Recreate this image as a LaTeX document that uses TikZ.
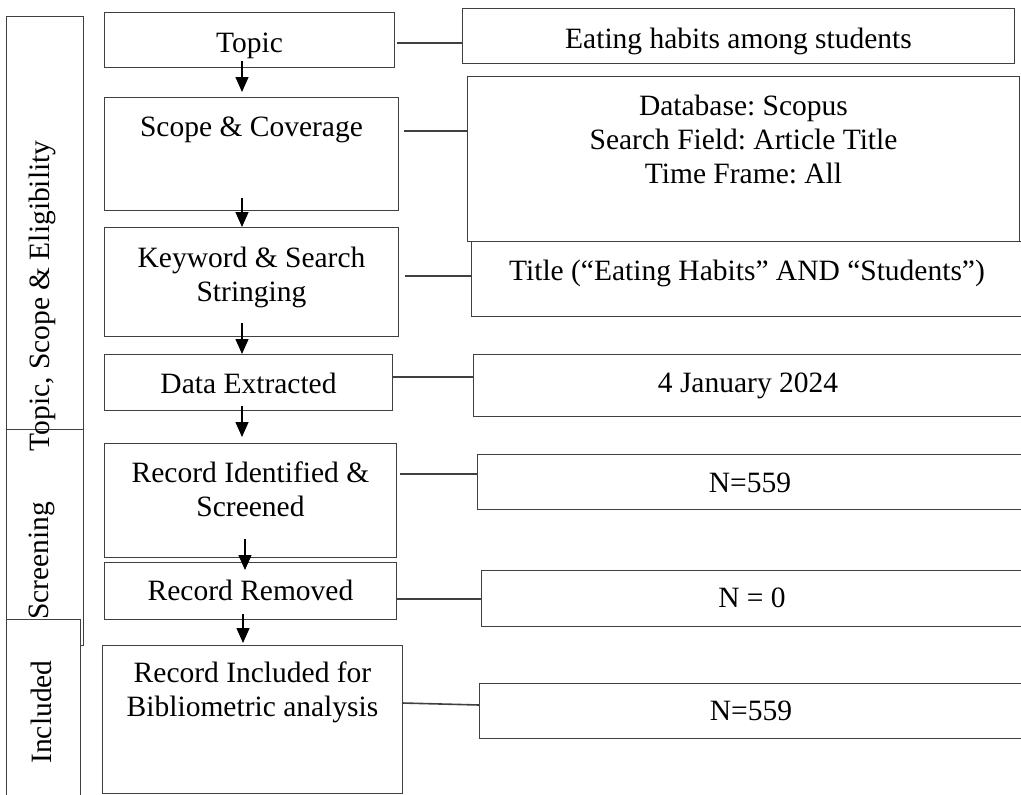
\documentclass[tikz,border=0pt]{standalone}
\usepackage{fontspec}
\setmainfont{Liberation Serif}
\frenchspacing
\usetikzlibrary{arrows.meta,positioning,calc}
\definecolor{ink}{HTML}{000000}
\definecolor{rule}{HTML}{404040}
\tikzset{
  every node/.style={font=\fontsize{29.5}{34}\selectfont, text=ink},
  box/.style={draw=rule, line width=1pt, anchor=north west, inner sep=0pt},
  sidebox/.style={box},
  txt/.style={align=center, anchor=base, inner sep=0pt},
  sidetxt/.style={rotate=90, inner sep=0pt},
  arr/.style={-{Triangle[length=15pt, width=13pt]}, line width=1.3pt, draw=ink},
  link/.style={line width=1.6pt, draw=rule},
}

\begin{document}
\begin{tikzpicture}[x=1pt, y=-1pt]
\useasboundingbox (0,0) rectangle (1021,795);

% --- stage labels on the left ---
\node[sidebox, minimum width=77pt, minimum height=413pt] (tsebox) at (6,16) {};
\node[sidebox, minimum width=77pt, minimum height=216pt] (scrbox) at (6,429) {};
\node[sidebox, fill=white, minimum width=74pt, minimum height=190pt] (incbox) at (6,619) {};
\node[sidetxt] (tsetxt) at (42,296) {Topic, Scope \& Eligibility};
\node[sidetxt] (scrtxt) at (42,561) {Screening};
\node[sidetxt] (inctxt) at (41,712) {Included};

% --- process steps (base = last line, so two-line texts sit 34 lower) ---
\node[box, minimum width=290pt, minimum height=55pt] (topic) at (104,12) {};
\node[txt] (topictxt) at ($(topic.north)+(0,40)$) {Topic};
\node[box, minimum width=294pt, minimum height=113pt] (scope) at (104,97) {};
\node[txt] (scopetxt) at ($(scope.north)+(0,39)$) {Scope \& Coverage};
\node[box, minimum width=294pt, minimum height=109pt] (keyword) at (104,227) {};
\node[txt] (keywordtxt) at ($(keyword.north)+(0,74)$) {Keyword \& Search\\Stringing};
\node[box, minimum width=288pt, minimum height=56pt] (data) at (104,354) {};
\node[txt] (datatxt) at ($(data.north)+(0,39)$) {Data Extracted};
\node[box, minimum width=292pt, minimum height=114pt] (ident) at (104,443) {};
\node[txt] (identtxt) at ($(ident.north)+(0,73)$) {Record Identified \&\\Screened};
\node[box, minimum width=292pt, minimum height=57pt] (removed) at (104,562) {};
\node[txt] (removedtxt) at ($(removed.north)+(0,38)$) {Record Removed};
\node[box, minimum width=300pt, minimum height=148pt] (incl) at (102,645) {};
\node[txt] (incltxt) at ($(incl.north)+(0,71)$) {Record Included for\\Bibliometric analysis};

% --- details ---
\node[box, minimum width=552pt, minimum height=55pt] (topicinfo) at (462,8) {};
\node[txt] (topicinfotxt) at ($(topicinfo.north)+(0,40)$) {Eating habits among students};
\node[box, minimum width=552pt, minimum height=165pt] (scopeinfo) at (467,76) {};
\node[txt] (scopeinfotxt) at ($(scopeinfo.north)+(0,107)$) {Database: Scopus\\Search Field: Article Title\\Time Frame: All};
\node[box, minimum width=551pt, minimum height=75pt] (keyinfo) at (471,241) {};
\node[txt] (keyinfotxt) at ($(keyinfo.north)+(0,39)$) {Title (“Eating Habits” AND “Students”)};
\node[box, minimum width=549pt, minimum height=62pt] (dateinfo) at (473,354) {};
\node[txt] (dateinfotxt) at ($(dateinfo.north)+(0,38)$) {4 January 2024};
\node[box, minimum width=545pt, minimum height=55pt] (screeninfo) at (477,454) {};
\node[txt] (screeninfotxt) at ($(screeninfo.north)+(0,38)$) {N=559};
\node[box, minimum width=541pt, minimum height=56pt] (removedinfo) at (481,570) {};
\node[txt] (removedinfotxt) at ($(removedinfo.north)+(0,37)$) {N = 0};
\node[box, minimum width=543pt, minimum height=55pt] (inclinfo) at (479,683) {};
\node[txt] (inclinfotxt) at ($(inclinfo.north)+(0,37)$) {N=559};

% --- flow arrows ---
\coordinate (spine) at (242,0);
\draw[arr] ($(topic.south -| spine)+(0,-7)$) -- ($(scope.north -| spine)+(0,-5)$);
\draw[arr] ($(scope.south -| spine)+(0,-13)$) -- (keyword.north -| spine);
\draw[arr] ($(keyword.south -| spine)+(0,-14)$) -- (data.north -| spine);
\draw[arr] ($(data.south -| spine)+(0,-5)$) -- ($(ident.north -| spine)+(0,-6)$);
\draw[arr] ($(ident.south -| spine)+(3,-19)$) -- ($(removed.north -| spine)+(3,8)$);
\draw[arr] ($(removed.south -| spine)+(1,-6)$) -- ($(incl.north -| spine)+(1,-2)$);

% --- links to details ---
\draw[link] ($(topic.north east)+(2,31)$) -- ($(topicinfo.north west)+(0,35)$);
\draw[link] ($(scope.north east)+(5,34)$) -- ($(scopeinfo.north west)+(0,55)$);
\draw[link] ($(keyword.north east)+(6,49)$) -- ($(keyinfo.north west)+(0,35)$);
\draw[link] ($(data.north east)+(0,23)$) -- ($(dateinfo.north west)+(0,23)$);
\draw[link] ($(ident.north east)+(3,31)$) -- ($(screeninfo.north west)+(0,20)$);
\draw[link] ($(removed.north east)+(0,37)$) -- ($(removedinfo.north west)+(0,29)$);
\draw[link] ($(incl.north east)+(-1,58)$) -- ($(inclinfo.north west)+(0,22)$);

\end{tikzpicture}
\end{document}
